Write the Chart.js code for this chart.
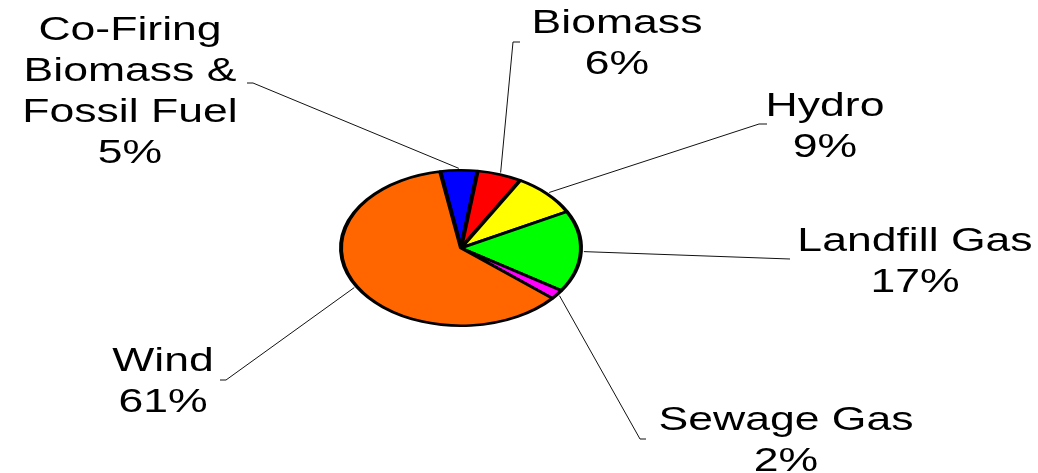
<!DOCTYPE html>
<html>
<head>
<meta charset="utf-8">
<script src="https://cdn.jsdelivr.net/npm/chart.js@4.4.0/dist/chart.umd.min.js"></script>
<style>
  html, body { margin: 0; padding: 0; background: #fff; }
  #wrap { width: 1038px; height: 473px; }
</style>
</head>
<body>
<div id="wrap"><canvas id="chart" width="1038" height="473"></canvas></div>
<script>
// data (percent of total)
const categories = ["Co-Firing Biomass & Fossil Fuel", "Biomass", "Hydro", "Landfill Gas", "Sewage Gas", "Wind"];
const labelLines = [["Co-Firing", "Biomass &", "Fossil Fuel"], ["Biomass"], ["Hydro"], ["Landfill Gas"], ["Sewage Gas"], ["Wind"]];
const values = [5, 6, 9, 17, 2, 61];
const colors = ["#0000ff", "#ff0000", "#ffff00", "#00ff00", "#ff00ff", "#ff6600"];

// where each label sits: text centre x, first baseline y, leader elbow and end
const labelPos = [
  { x: 130, y: 40, elbow: [253, 83], end: [247, 83] },
  { x: 617, y: 33, elbow: [513, 42], end: [520, 42] },
  { x: 825, y: 116, elbow: [759, 124], end: [767, 124] },
  { x: 915, y: 251, elbow: null, end: [790, 259] },
  { x: 786, y: 430, elbow: [640, 439], end: [646, 439] },
  { x: 163, y: 371, elbow: [226, 380], end: [220, 380] },
];

const squash = 79 / 122;
const lineGap = 41;
const textStretch = 1.35;

const ellipsePlugin = {
  id: "ellipse",
  beforeDatasetsDraw(chart) {
    const arc = chart.getDatasetMeta(0).data[0];
    const ctx = chart.ctx;
    ctx.save();
    ctx.translate(arc.x, arc.y);
    ctx.scale(1, squash);
    ctx.translate(-arc.x, -arc.y);
  },
  afterDatasetsDraw(chart) {
    chart.ctx.restore();
  },
};

const labelPlugin = {
  id: "pieLabels",
  afterDraw(chart) {
    const ctx = chart.ctx;
    const total = values.reduce((a, b) => a + b, 0);
    const arcs = chart.getDatasetMeta(0).data;
    ctx.save();
    arcs.forEach((arc, i) => {
      const p = labelPos[i];
      const mid = (arc.startAngle + arc.endAngle) / 2;
      const r = arc.outerRadius + 3;
      const sx = arc.x + Math.cos(mid) * r;
      const sy = arc.y + Math.sin(mid) * r * squash;

      ctx.strokeStyle = "#111";
      ctx.lineWidth = 1;
      ctx.beginPath();
      ctx.moveTo(sx, sy);
      if (p.elbow) ctx.lineTo(p.elbow[0], p.elbow[1]);
      ctx.lineTo(p.end[0], p.end[1]);
      ctx.stroke();

      const lines = labelLines[i].concat([Math.round(values[i] / total * 100) + "%"]);
      ctx.fillStyle = "#000";
      ctx.font = "33px 'Liberation Sans', Arial, sans-serif";
      ctx.textAlign = "center";
      ctx.textBaseline = "alphabetic";
      lines.forEach((t, k) => {
        ctx.save();
        ctx.translate(p.x, p.y + k * lineGap);
        ctx.scale(textStretch, 1);
        ctx.fillText(t, 0, 0);
        ctx.restore();
      });
    });
    ctx.restore();
  },
};

new Chart(document.getElementById("chart"), {
  type: "pie",
  data: {
    labels: categories,
    datasets: [{
      data: values,
      backgroundColor: colors,
      borderColor: "#000",
      borderWidth: 4,
    }],
  },
  options: {
    responsive: false,
    animation: false,
    rotation: -10,
    layout: { padding: { left: 339, right: 455, top: 125, bottom: 102 } },
    plugins: { legend: { display: false }, tooltip: { enabled: false } },
  },
  plugins: [ellipsePlugin, labelPlugin],
});
</script>
</body>
</html>
